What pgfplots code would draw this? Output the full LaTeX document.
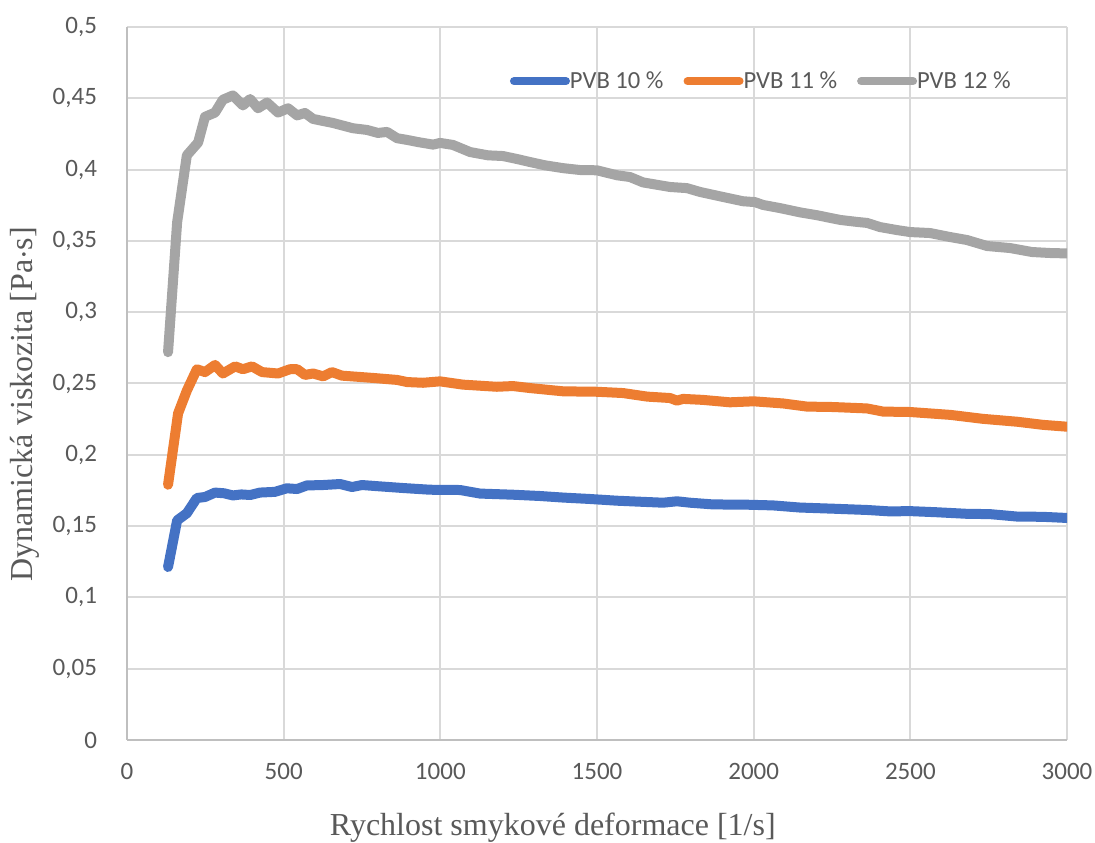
\documentclass[border=0pt]{standalone}
\usepackage{pgfplots}
\pgfplotsset{compat=1.18}
\usepackage{fontspec}
\setmainfont{Liberation Serif}
\newfontfamily\calibri{Carlito}
\definecolor{cblue}{HTML}{4472C4}
\definecolor{corange}{HTML}{ED7D31}
\definecolor{cgray}{HTML}{A5A5A5}
\definecolor{gridc}{HTML}{D9D9D9}
\definecolor{axisc}{HTML}{BFBFBF}
\definecolor{txt}{HTML}{595959}
\begin{document}
\begin{tikzpicture}
\begin{axis}[
  scale only axis, width=470pt, height=356.5pt,
  xmin=0, xmax=3000, ymin=0, ymax=0.5,
  xtick={0,500,1000,1500,2000,2500,3000},
  xticklabels={0,500,1000,1500,2000,2500,3000},
  ytick={0,0.05,0.1,0.15,0.2,0.25,0.3,0.35,0.4,0.45,0.5},
  yticklabels={0,{0,05},{0,1},{0,15},{0,2},{0,25},{0,3},{0,35},{0,4},{0,45},{0,5}},
  major tick length=0pt,
  grid=major,
  major grid style={draw=gridc, line width=1pt},
  axis x line*=bottom, axis y line*=left,
  axis line style={draw=axisc, line width=1pt, -},
  tick label style={font=\calibri\fontsize{12.5}{14}\selectfont, text=txt},
  yticklabel style={xshift=-11.5pt},
  xticklabel style={yshift=-8pt},
  xlabel={Rychlost smykové deformace [1/s]},
  ylabel={Dynamická viskozita [Pa$\cdot$s]},
  every axis x label/.style={at={(axis description cs:0.453,-0.1234)}, anchor=center,
     font=\fontsize{16}{19}\selectfont, text=txt},
  every axis y label/.style={at={(axis description cs:-0.1085,0.471)}, anchor=center, rotate=90,
     font=\fontsize{16}{19}\selectfont, text=txt},
  legend columns=3,
  legend style={draw=none, fill=none, at={(0.407,0.924)}, anchor=west, inner sep=0pt,
    font=\calibri\fontsize{12.3}{14}\selectfont, text=txt,
    nodes={inner sep=0pt},
    /tikz/every even column/.append style={column sep=10pt}},
  legend image code/.code={\draw[line width=4pt, line cap=round] (2pt,0pt) -- (28pt,0pt);},
  every axis plot/.append style={line width=5pt, line join=round, line cap=round},
]
\addplot[cblue] table {
131 0.1213
160 0.154
191 0.159
223 0.1697
249 0.1704
281 0.1735
310 0.1730
338 0.1715
365 0.1722
393 0.1718
424 0.1735
472 0.1740
510 0.1765
543 0.1760
574 0.1785
626 0.1788
680 0.1795
718 0.1774
750 0.1788
798 0.1780
881 0.1767
967 0.1755
1063 0.1753
1127 0.1728
1232 0.1720
1318 0.1711
1392 0.1700
1478 0.1690
1564 0.1678
1647 0.1670
1711 0.1664
1755 0.1674
1797 0.1664
1870 0.1652
1979 0.1650
2062 0.1645
2148 0.1630
2253 0.1622
2362 0.1613
2435 0.1603
2499 0.1605
2585 0.1597
2681 0.1586
2754 0.1584
2840 0.1567
2923 0.1565
3000 0.1557
};
\addlegendentry{PVB 10 \%}
\addplot[corange] table {
131 0.179
163 0.229
191 0.245
223 0.260
249 0.258
281 0.263
306 0.257
345 0.262
370 0.260
399 0.262
431 0.258
482 0.257
520 0.260
543 0.260
568 0.256
594 0.257
626 0.255
654 0.258
686 0.2555
785 0.2539
862 0.2525
894 0.2510
945 0.2505
999 0.2515
1072 0.2492
1180 0.2477
1232 0.2482
1286 0.2468
1392 0.2445
1500 0.2442
1583 0.2433
1660 0.2408
1733 0.2398
1755 0.2380
1775 0.2392
1838 0.2385
1924 0.2368
2000 0.2375
2094 0.2360
2170 0.2338
2253 0.2335
2362 0.2325
2413 0.2303
2499 0.2300
2627 0.2280
2732 0.2252
2840 0.2232
2923 0.2210
3000 0.2197
};
\addlegendentry{PVB 11 \%}
\addplot[cgray] table {
131 0.272
160 0.363
191 0.410
227 0.419
249 0.437
281 0.440
306 0.449
338 0.452
370 0.445
393 0.4495
418 0.443
447 0.447
482 0.440
514 0.443
543 0.438
568 0.4397
594 0.4355
657 0.4327
721 0.4290
766 0.4278
801 0.4257
830 0.4264
862 0.4220
894 0.4208
926 0.4194
977 0.4175
999 0.4187
1040 0.4173
1095 0.4123
1152 0.4100
1200 0.4095
1245 0.4074
1286 0.4053
1334 0.4030
1392 0.4010
1446 0.3997
1500 0.3995
1564 0.3960
1605 0.3948
1647 0.3910
1733 0.3878
1787 0.3870
1829 0.3843
1902 0.3808
1966 0.3778
2004 0.3772
2030 0.3752
2084 0.3730
2148 0.3700
2202 0.3680
2276 0.3647
2330 0.3633
2362 0.3626
2403 0.3597
2457 0.3576
2499 0.3562
2563 0.3555
2627 0.3527
2681 0.3506
2745 0.3464
2818 0.3450
2888 0.3422
2946 0.3415
3000 0.3412
};
\addlegendentry{PVB 12 \%}
\end{axis}
\pgfresetboundingbox
\path[use as bounding box] ([shift={(-63.5pt,-51.5pt)}]current axis.south west) rectangle ([shift={(14pt,13.5pt)}]current axis.north east);
\end{tikzpicture}
\end{document}
